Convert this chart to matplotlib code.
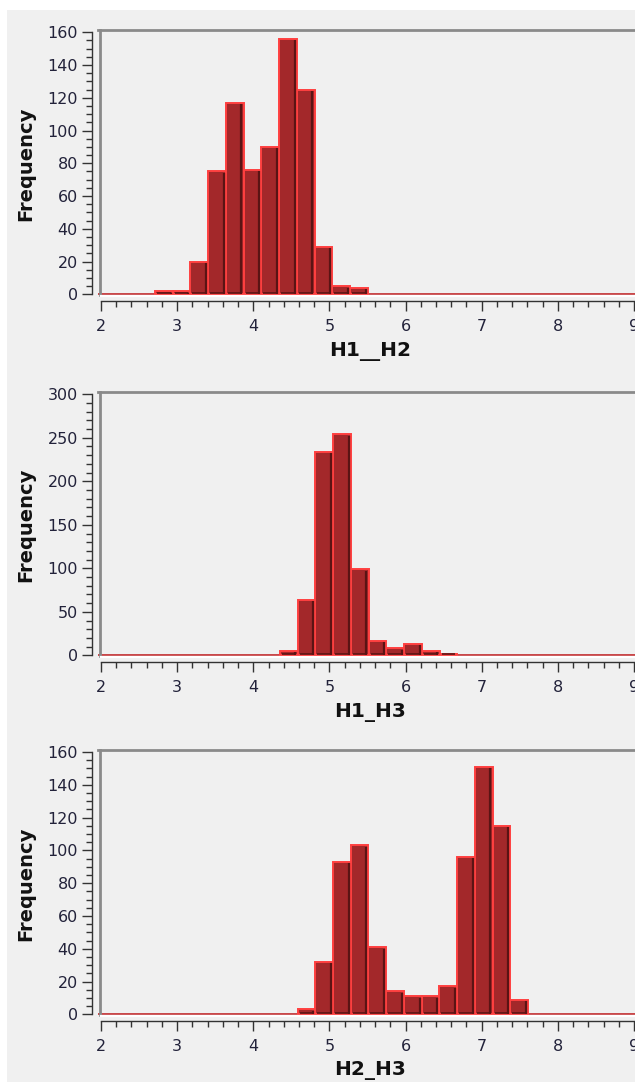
import numpy as np
import matplotlib
matplotlib.use("Agg")
import matplotlib.pyplot as plt
from matplotlib.lines import Line2D
from matplotlib.patches import Rectangle
from matplotlib.ticker import MultipleLocator

# histogram counts for each pairwise distance
bin_width = 0.233
h1_h2_start = 2.709
h1_h2_counts = [2, 2, 20, 75, 117, 76, 90, 156, 125, 29, 5, 4]
h1_h3_start = 4.349
h1_h3_counts = [5, 64, 234, 254, 99, 17, 8, 13, 5, 2]
h2_h3_start = 4.581
h2_h3_counts = [3, 32, 93, 103, 41, 14, 11, 11, 17, 96, 151, 115, 9]

names = ["H1__H2", "H1_H3", "H2_H3"]
starts = [h1_h2_start, h1_h3_start, h2_h3_start]
counts = [h1_h2_counts, h1_h3_counts, h2_h3_counts]
ymaxes = [160, 300, 160]
majors = [20, 50, 20]
minors = [5, 10, 5]
x_ticks = [2, 3, 4, 5, 6, 7, 8, 9]

W, H = 635, 1082
BG = "#f0f0f0"
fig = plt.figure(figsize=(W / 100, H / 100), dpi=100, facecolor="white")
fig.patches.append(Rectangle((7 / W, 0), 1, (H - 10) / H, transform=fig.transFigure,
                             facecolor=BG, edgecolor="none", zorder=-10))

px_per_unit = (634 - 101) / 7.0
left_px, right_px = 98, 635
# (top of frame, pixel of y max, pixel of zero)
frames = [(30, 32.3, 294.3), (392.3, 394.3, 655.3), (750, 752, 1014.3)]

fill = "#a3282a"
light = "#ff4040"
dark = "#5a1414"
tick_col = "#22223a"

for i in range(3):
    top_px, ymax_px, zero_px = frames[i]
    ymax = ymaxes[i]
    scale = (zero_px - ymax_px) / ymax
    bot_px = zero_px + 3
    ax = fig.add_axes([left_px / W, 1 - bot_px / H, (right_px - left_px) / W, (bot_px - top_px) / H])
    ax.set_facecolor(BG)
    ax.set_xlim(2 - (101 - left_px) / px_per_unit, 2 + (right_px - 101) / px_per_unit)
    ax.set_ylim(-3 / scale, ymax + (ymax_px - top_px) / scale)

    c = np.array(counts[i], dtype=float)
    lefts = starts[i] + bin_width * np.arange(len(c))
    ax.axhline(0, color="#c0282a", lw=1.2, zorder=1)
    ax.bar(lefts, c, width=bin_width, align="edge", color=fill,
           edgecolor=light, linewidth=1.4, zorder=2)
    # shaded right side and bottom of each bar
    dx = 2.2 / px_per_unit
    ax.vlines(lefts + bin_width - dx, 0, c - 1.5 / scale, color=dark, lw=1.6, zorder=3)
    ax.hlines(np.full(len(c), 1.0 / scale), lefts + 2 / px_per_unit, lefts + bin_width - dx,
              color=dark, lw=1.2, zorder=3)

    # frame: grey top/left, white bottom
    ax.spines["top"].set_color("#8a8a8a")
    ax.spines["top"].set_linewidth(2.0)
    ax.spines["right"].set_visible(False)
    ax.add_line(Line2D([0.003, 0.003], [0.01, 1], transform=ax.transAxes, color="#8a8a8a",
                       lw=2.0, clip_on=False, zorder=5))
    ax.add_line(Line2D([0.006, 1], [0.004, 0.004], transform=ax.transAxes, color="white",
                       lw=1.6, clip_on=False, zorder=5))

    ax.spines["left"].set_position(("outward", 4))
    ax.spines["left"].set_bounds(0, ymax)
    ax.spines["left"].set_color("#333333")
    ax.spines["left"].set_linewidth(1.0)
    ax.spines["bottom"].set_position(("outward", 3))
    ax.spines["bottom"].set_bounds(2, ax.get_xlim()[1])
    ax.spines["bottom"].set_color("#333333")
    ax.spines["bottom"].set_linewidth(1.0)

    ax.yaxis.set_major_locator(MultipleLocator(majors[i]))
    ax.yaxis.set_minor_locator(MultipleLocator(minors[i]))
    ax.set_xticks(x_ticks)
    ax.xaxis.set_minor_locator(MultipleLocator(0.2))
    ax.tick_params(axis="both", which="major", length=7.5, width=1.0, color="#333333",
                   labelsize=11.5, labelcolor=tick_col)
    ax.tick_params(axis="both", which="minor", length=4, width=1.0, color="#333333")
    ax.tick_params(axis="y", which="major", pad=3)
    ax.tick_params(axis="x", which="major", pad=5)

    ax.set_xlabel(names[i], fontsize=14.5, fontweight="bold", color="#111111", va="center")
    ax.xaxis.set_label_coords((370 - left_px) / (right_px - left_px),
                              -(351 - 294.3 - 3) / (bot_px - top_px))
    ax.set_ylabel("Frequency", fontsize=14, fontweight="bold", color="#111111",
                  ha="center", va="center")
    ax.yaxis.set_label_coords((26 - left_px) / (right_px - left_px), 0.5)

fig.savefig("out.png", dpi=100, facecolor="white")
